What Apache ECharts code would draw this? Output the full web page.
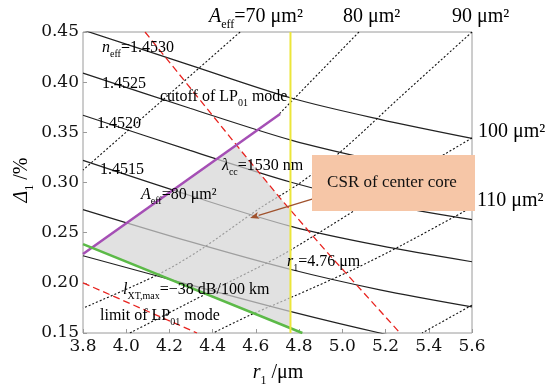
<!DOCTYPE html>
<html>
<head>
<meta charset="utf-8">
<script src="https://cdn.jsdelivr.net/npm/echarts@6/dist/echarts.min.js"></script>
<style>
  html, body { margin: 0; padding: 0; background: #fff; }
  #chart { width: 550px; height: 389px; }
</style>
</head>
<body>
<div id="chart"></div>
<script>
// Axis ticks: core radius r1 (µm) and relative index difference Δ1 (%)
const xTicks = [3.8, 4.0, 4.2, 4.4, 4.6, 4.8, 5.0, 5.2, 5.4, 5.6];
const yTicks = [0.15, 0.20, 0.25, 0.30, 0.35, 0.40, 0.45];

// Effective-index contours, points [r1, Δ1]
const neff14530 = [[3.8, 0.452], [4.295, 0.417], [4.767, 0.384], [5.174, 0.363], [5.6, 0.344]];
const neff14525 = [[3.8, 0.409], [4.295, 0.374], [4.767, 0.342], [5.174, 0.321], [5.6, 0.302]];
const neff14520 = [[3.8, 0.367], [4.295, 0.332], [4.767, 0.300], [5.174, 0.279], [5.6, 0.263]];
const neff14515 = [[3.8, 0.322], [4.295, 0.287], [4.767, 0.256], [5.174, 0.237], [5.6, 0.221]];
const neff14510 = [[3.8, 0.273], [4.295, 0.241], [4.767, 0.213], [5.174, 0.193], [5.6, 0.176]];
const neff14505 = [[3.8, 0.227], [4.295, 0.198], [4.767, 0.171], [5.174, 0.150], [5.6, 0.131]];

// Effective-area contours (µm²)
const aeff70  = [[4.527, 0.45], [3.8, 0.3124]];
const aeff80  = [[5.077, 0.45], [4.702, 0.367]];
const aeff90  = [[5.6, 0.45], [5.267, 0.385], [4.999, 0.332], [4.804, 0.2995], [4.619, 0.2745],
                 [4.341, 0.2327], [4.142, 0.2077], [3.8, 0.1748]];
const aeff100 = [[5.6, 0.3443], [5.475, 0.3284], [5.267, 0.3004], [5.082, 0.2755], [4.897, 0.2506],
                 [4.712, 0.2267], [4.503, 0.2037], [4.295, 0.1808], [4.017, 0.150]];
const aeff110 = [[5.6, 0.2755], [5.276, 0.2376], [5.045, 0.2127], [4.767, 0.1858], [4.573, 0.1678], [4.402, 0.150]];
const aeff120 = [[5.6, 0.1778], [5.369, 0.150]];

// Design boundaries
const lp01Cutoff  = [[4.087, 0.45], [4.540, 0.3294], [4.712, 0.2845], [4.920, 0.2327], [5.267, 0.150]];
const lp01Limit   = [[3.8, 0.200], [4.3275, 0.150]];
const cableCutoff = [[3.8, 0.2287], [4.712, 0.3682]];
const crosstalkMax = [[3.8, 0.2386], [4.815, 0.150]];
const r1Fixed = [[4.76, 0.15], [4.76, 0.45]];

// Candidate-solution region of the center core
const csrRegion = [[4.510, 0.337], [4.540, 0.3294], [4.712, 0.2845], [4.76, 0.2725],
                   [4.76, 0.1548], [3.841, 0.2350]];
const csrArrow = [[4.86, 0.2835], [4.573, 0.2646]];

const SERIF = '"Liberation Serif", "Times New Roman", serif';
const TICKFONT = '"DejaVu Serif", serif';

function curve(data, color, width, type, z, smooth) {
  return {
    type: 'line', data: data, symbol: 'none', smooth: smooth || 0, z: z, silent: true,
    lineStyle: { color: color, width: width, type: type },
    clip: true, animation: false
  };
}

// rich-text styles: normal, italic and a slightly lowered subscript
function richSet(size) {
  const lh = Math.round(size * 1.35);
  const sub = Math.round(size * 0.62);
  const subLh = lh - Math.round(size * 0.38);
  return {
    n: { fontFamily: SERIF, fontSize: size, lineHeight: lh, verticalAlign: 'middle', color: '#111' },
    i: { fontFamily: SERIF, fontSize: size, lineHeight: lh, verticalAlign: 'middle', fontStyle: 'italic', color: '#111' },
    s: { fontFamily: SERIF, fontSize: sub, lineHeight: subLh, verticalAlign: 'bottom', color: '#111' }
  };
}
const rich16 = richSet(16);
const rich20 = richSet(20);

function label(x, y, text, rich, extra) {
  return Object.assign({
    type: 'text', x: x, y: y, z: 40, silent: true,
    style: { text: text, rich: rich, align: 'left', verticalAlign: 'middle' }
  }, extra || {});
}

// arrow from the annotation box into the region: shaft plus a filled head
function renderArrow(params, api) {
  const a = api.coord(csrArrow[0]);
  const b = api.coord(csrArrow[1]);
  const ang = Math.atan2(b[1] - a[1], b[0] - a[0]);
  const L = 9, W = 3.5;
  const bx = b[0] - L * Math.cos(ang), by = b[1] - L * Math.sin(ang);
  const nx = -Math.sin(ang) * W, ny = Math.cos(ang) * W;
  return {
    type: 'group',
    children: [
      { type: 'line', shape: { x1: a[0], y1: a[1], x2: bx, y2: by },
        style: { stroke: '#a0522d', lineWidth: 1.3 } },
      { type: 'polygon', shape: { points: [[b[0], b[1]], [bx + nx, by + ny], [bx + 2 * Math.cos(ang), by + 2 * Math.sin(ang)], [bx - nx, by - ny]] },
        style: { fill: '#a0522d' } }
    ]
  };
}

const chart = echarts.init(document.getElementById('chart'));
const xStep = +(xTicks[1] - xTicks[0]).toFixed(2);
const yStep = +(yTicks[1] - yTicks[0]).toFixed(2);
const DOT = [2, 2];

chart.setOption({
  animation: false,
  grid: { left: 83, right: 78, top: 32, bottom: 56, show: true, borderColor: '#9a9a9a', borderWidth: 1, backgroundColor: 'transparent' },
  xAxis: {
    type: 'value', min: xTicks[0], max: xTicks[xTicks.length - 1], interval: xStep,
    axisLine: { show: false },
    axisTick: { show: true, inside: true, length: 4, lineStyle: { color: '#9a9a9a' } },
    splitLine: { show: false },
    axisLabel: { fontFamily: TICKFONT, fontSize: 17, color: '#111', margin: 5, formatter: v => v.toFixed(1) }
  },
  yAxis: {
    type: 'value', min: yTicks[0], max: yTicks[yTicks.length - 1], interval: yStep,
    axisLine: { show: false },
    axisTick: { show: true, inside: true, length: 4, lineStyle: { color: '#9a9a9a' } },
    splitLine: { show: false },
    axisLabel: { fontFamily: TICKFONT, fontSize: 17, color: '#111', margin: 4, formatter: v => v.toFixed(2) }
  },
  series: [
    curve(neff14530, '#222', 1.2, 'solid', 2, 0.3),
    curve(neff14525, '#222', 1.2, 'solid', 2, 0.3),
    curve(neff14520, '#222', 1.2, 'solid', 2, 0.3),
    curve(neff14515, '#222', 1.2, 'solid', 2, 0.3),
    curve(neff14510, '#222', 1.2, 'solid', 2, 0.3),
    curve(neff14505, '#222', 1.2, 'solid', 2, 0.3),
    curve(aeff70,  '#111', 1.1, DOT, 2),
    curve(aeff80,  '#111', 1.1, DOT, 2),
    curve(aeff90,  '#111', 1.1, DOT, 2, 0.3),
    curve(aeff100, '#111', 1.1, DOT, 2, 0.3),
    curve(aeff110, '#111', 1.1, DOT, 2, 0.3),
    curve(aeff120, '#111', 1.1, DOT, 2),
    {
      type: 'custom', coordinateSystem: 'cartesian2d', data: [[4.5, 0.25]], z: 3, silent: true, clip: true,
      renderItem: (params, api) => ({
        type: 'polygon',
        shape: { points: csrRegion.map(p => api.coord(p)) },
        style: { fill: 'rgba(212,212,212,0.7)' }
      })
    },
    curve(lp01Cutoff, '#e8231f', 1.3, [7, 4], 4),
    curve(lp01Limit, '#e8231f', 1.3, [7, 4], 4),
    curve(cableCutoff, '#a54fb5', 2.5, 'solid', 4),
    curve(crosstalkMax, '#5cba48', 2.5, 'solid', 4),
    curve(r1Fixed, '#ece63a', 2, 'solid', 4),
    {
      type: 'custom', coordinateSystem: 'cartesian2d', data: [csrArrow[1]], z: 5, silent: true,
      renderItem: renderArrow
    }
  ],
  graphic: [
    // contour labels
    label(102, 48, '{i|n}{s|eff}{n|=1.4530}', rich16),
    label(102, 84, '{n|1.4525}', rich16),
    label(97, 124, '{n|1.4520}', rich16),
    label(100, 170, '{n|1.4515}', rich16),
    label(160, 97, '{n|cutoff of LP}{s|01}{n| mode}', rich16),
    label(222, 166, '{i|λ}{s|cc}{n|=1530 nm}', rich16),
    label(141, 195, '{i|A}{s|eff}{n|=80 μm²}', rich16),
    label(123, 290, '{i|l}{s|XT,max}{n|=−38 dB/100 km}', rich16),
    label(100, 316, '{n|limit of LP}{s|01}{n| mode}', rich16),
    label(287, 262, '{i|r}{s|1}{n|=4.76 μm}', rich16),
    // effective-area labels around the frame
    label(209, 17, '{i|A}{s|eff}{n|=70 μm²}', rich20),
    label(343, 17, '{n|80 μm²}', rich20),
    label(452, 17, '{n|90 μm²}', rich20),
    label(478, 132, '{n|100 μm²}', rich20),
    label(477, 201, '{n|110 μm²}', rich20),
    // axis titles
    label(278, 373, '', rich20, { style: { text: '{i|r}{s|1}{n| /μm}', rich: rich20, align: 'center', verticalAlign: 'middle' } }),
    label(22, 180, '', rich20, { rotation: Math.PI / 2, style: { text: '{i|Δ}{s|1}{n| /%}', rich: rich20, align: 'center', verticalAlign: 'middle' } }),
    // CSR annotation box
    { type: 'rect', z: 30, silent: true, shape: { x: 312, y: 155, width: 163, height: 56 }, style: { fill: '#f6c6a7' } },
    { type: 'text', z: 31, silent: true, x: 392, y: 183,
      style: { text: 'CSR of center core', font: '17px ' + SERIF, fill: '#111', align: 'center', verticalAlign: 'middle' } }
  ]
});
</script>
</body>
</html>
